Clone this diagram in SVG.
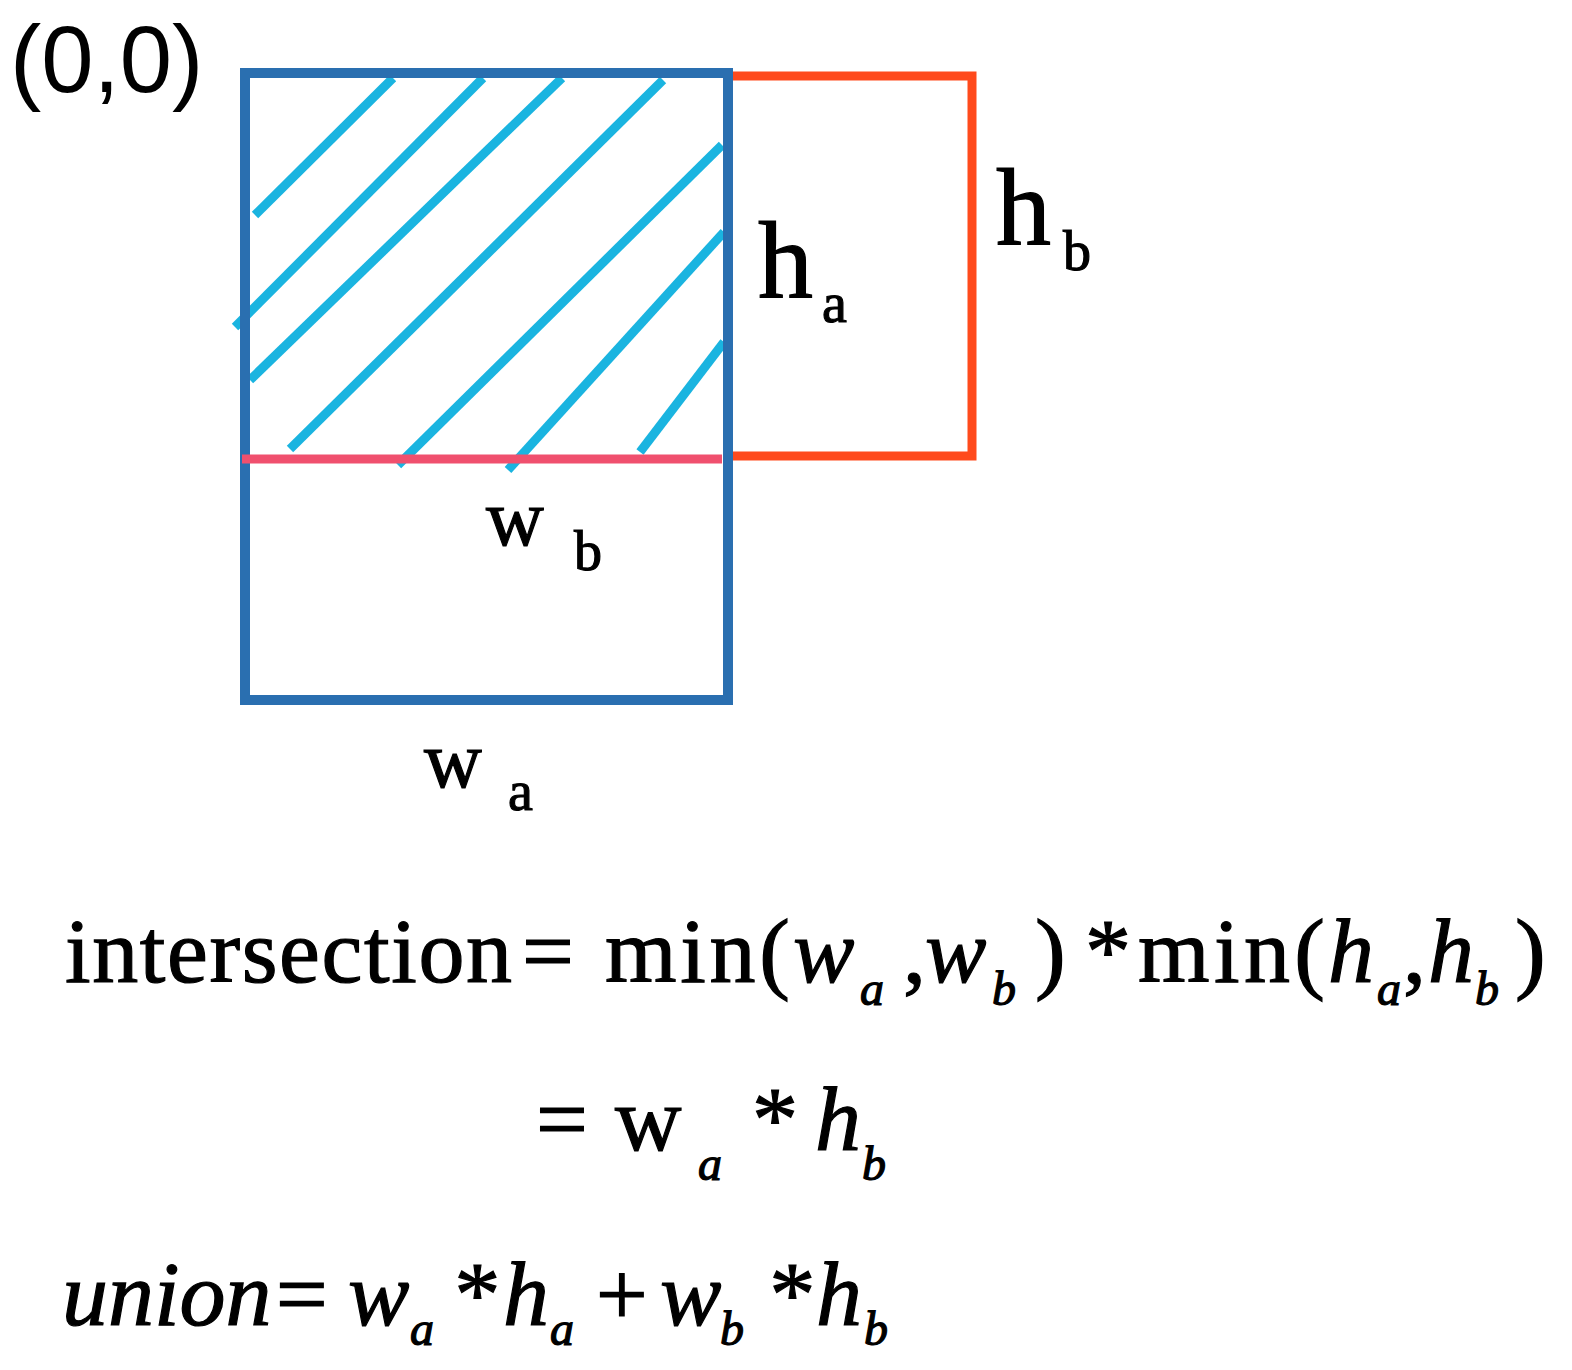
<svg xmlns="http://www.w3.org/2000/svg" width="1572" height="1370" viewBox="0 0 1572 1370">
<style>
.s{font-family:"Liberation Serif",serif;fill:#000;stroke:#000;stroke-width:1.2}
.i{font-style:italic}
.h{stroke:#1ab4e0;stroke-width:9;fill:none}
</style>
<rect width="1572" height="1370" fill="#fff"/>
<g id="boxB"><polyline points="728,76 972,76 972,456 728,456" fill="none" stroke="#ff4a1c" stroke-width="9"/></g>
<g id="hatch">
<line class="h" x1="255" y1="215" x2="393" y2="78"/>
<line class="h" x1="235" y1="327" x2="483" y2="78"/>
<line class="h" x1="250" y1="380" x2="562" y2="78"/>
<line class="h" x1="290" y1="449" x2="663" y2="80"/>
<line class="h" x1="398" y1="465" x2="722" y2="145"/>
<line class="h" x1="508" y1="470" x2="724" y2="232"/>
<line class="h" x1="640" y1="452" x2="724" y2="342"/>
</g>
<g id="boxA"><rect x="245" y="73" width="483" height="627" fill="none" stroke="#2a6fb0" stroke-width="10"/></g>
<g id="edge"><line x1="242" y1="459" x2="722" y2="459" stroke="#f0506e" stroke-width="9"/></g>
<text x="10" y="92" font-family="Liberation Sans, sans-serif" font-size="94">(0,0)</text>
<text class="s" x="758" y="298" font-size="110">h</text><text class="s" x="822" y="322" font-size="56">a</text>
<text class="s" x="996" y="245" font-size="110">h</text><text class="s" x="1063" y="270" font-size="56">b</text>
<text class="s" x="486" y="545" font-size="80">w</text><text class="s" x="574" y="570" font-size="56">b</text>
<text class="s" x="424" y="787" font-size="80">w</text><text class="s" x="508" y="810" font-size="56">a</text>
<g id="f1" class="s" font-size="92">
<text x="65" y="982" textLength="447">intersection</text>
<text x="522" y="982">=</text>
<text x="605" y="982" textLength="185">min(</text>
<text class="s i" x="793" y="982">w</text><text class="s i" x="860" y="1005" font-size="48">a</text>
<text x="903" y="982">,</text>
<text class="s i" x="925" y="982">w</text><text class="s i" x="992" y="1005" font-size="48">b</text>
<text x="1035" y="982">)</text>
<text x="1085" y="982">*</text>
<text x="1138" y="982" textLength="187">min(</text>
<text class="s i" x="1328" y="982">h</text><text class="s i" x="1377" y="1005" font-size="48">a</text>
<text x="1403" y="982">,</text>
<text class="s i" x="1428" y="982">h</text><text class="s i" x="1475" y="1005" font-size="48">b</text>
<text x="1515" y="982">)</text>
</g>
<g id="f2" class="s" font-size="92">
<text x="536" y="1150">=</text>
<text x="615" y="1150">w</text><text class="s i" x="698" y="1180" font-size="48">a</text>
<text x="752" y="1150">*</text>
<text class="s i" x="815" y="1150">h</text><text class="s i" x="862" y="1180" font-size="48">b</text>
</g>
<g id="f3" class="s i" font-size="92">
<text x="62" y="1325">union</text>
<text class="s" x="270" y="1325">=</text>
<text x="348" y="1325">w</text><text x="410" y="1345" font-size="48">a</text>
<text class="s" x="450" y="1325">*</text>
<text x="503" y="1325">h</text><text x="550" y="1345" font-size="48">a</text>
<text class="s" x="590" y="1325">+</text>
<text x="660" y="1325">w</text><text x="720" y="1345" font-size="48">b</text>
<text class="s" x="765" y="1325">*</text>
<text x="816" y="1325">h</text><text x="864" y="1345" font-size="48">b</text>
</g>
</svg>
